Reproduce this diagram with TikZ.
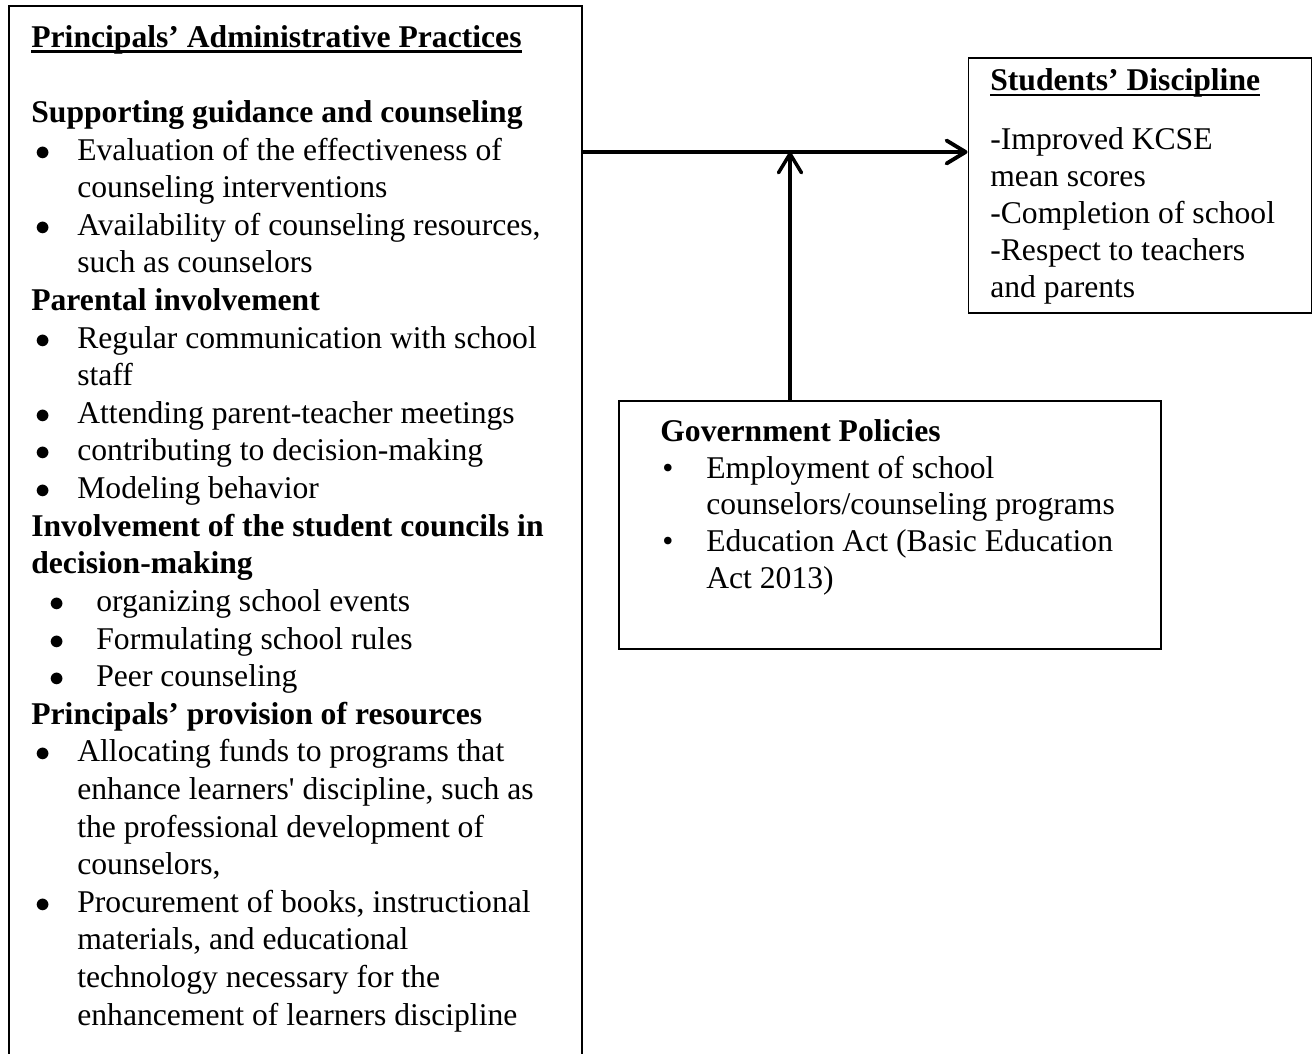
\documentclass[tikz,border=0pt]{standalone}
\usepackage{fontspec}
\setmainfont{Liberation Serif}
\usetikzlibrary{arrows.meta}
% underline drawn at a fixed depth, through the descenders
\newsavebox{\ulbox}
\newcommand{\ulhead}[1]{\sbox{\ulbox}{\textbf{#1}}\rlap{\rule[-3pt]{\wd\ulbox}{1.2pt}}\usebox{\ulbox}}
% bullet rows: first line and hanging continuation
\newcommand{\pbul}[1]{\makebox[0.92cm][l]{\hspace{0.08cm}$\bullet$}#1}
\newcommand{\pcont}[1]{\hspace*{0.92cm}#1}
\newcommand{\sbul}[1]{\makebox[1.3cm][l]{\hspace{0.36cm}$\bullet$}#1}
\newcommand{\gbul}[1]{\makebox[0.92cm][l]{\hspace{0.04cm}\textbullet}#1}
\newcommand{\gcont}[1]{\hspace*{0.92cm}#1}

\begin{document}
\begin{tikzpicture}[
    frame/.style={draw, line width=1.1pt, inner sep=0pt},
    blocktext/.style={anchor=north west, inner sep=0pt, align=left, font=\fontsize{18}{21.4}\selectfont},
    link/.style={line width=2.2pt, -{Straight Barb[length=3.8mm,width=4.6mm,round]}}]
    \useasboundingbox (0,0) rectangle (26.32,-21.06);

    % the three boxes
    \node[frame, anchor=north west, minimum width=11.46cm, minimum height=21.6cm] (pap) at (0.16,-0.1) {};
    \node[frame, anchor=north west, minimum width=6.86cm, minimum height=5.1cm] (sd) at (19.35,-1.14) {};
    \node[frame, anchor=north west, minimum width=10.84cm, minimum height=4.96cm] (gp) at (12.36,-8.0) {};

    \node[blocktext] (paptxt) at (0.62,-0.5) {%
        \ulhead{Principals’ Administrative Practices}\\[21.4pt]
        \textbf{Supporting guidance and counseling}\\
        \pbul{Evaluation of the effectiveness of}\\
        \pcont{counseling interventions}\\
        \pbul{Availability of counseling resources,}\\
        \pcont{such as counselors}\\
        \textbf{Parental involvement}\\
        \pbul{Regular communication with school}\\
        \pcont{staff}\\
        \pbul{Attending parent-teacher meetings}\\
        \pbul{contributing to decision-making}\\
        \pbul{Modeling behavior}\\
        \textbf{Involvement of the student councils in}\\
        \textbf{decision-making}\\
        \sbul{organizing school events}\\
        \sbul{Formulating school rules}\\
        \sbul{Peer counseling}\\
        \textbf{Principals’ provision of resources}\\
        \pbul{Allocating funds to programs that}\\
        \pcont{enhance learners\textquotesingle\ discipline, such as}\\
        \pcont{the professional development of}\\
        \pcont{counselors,}\\
        \pbul{Procurement of books, instructional}\\
        \pcont{materials, and educational}\\
        \pcont{technology necessary for the}\\
        \pcont{enhancement of learners discipline}};

    \node[blocktext, font=\fontsize{18}{21}\selectfont] (sdtxt) at (19.8,-1.37) {%
        \ulhead{Students’ Discipline}\\[0.44cm]
        -Improved KCSE\\
        mean scores\\
        -Completion of school\\
        -Respect to teachers\\
        and parents};

    \node[blocktext, font=\fontsize{18}{20.9}\selectfont] (gptxt) at (13.2,-8.38) {%
        \textbf{Government Policies}\\
        \gbul{Employment of school}\\
        \gcont{counselors/counseling programs}\\
        \gbul{Education Act (Basic Education}\\
        \gcont{Act 2013)}};

    % arrows into the outcome box
    \coordinate (jn) at (15.8,-3.04);
    \draw[link] (pap.east |- jn) -- (sd.west |- jn);
    \draw[link, line width=2pt] (gp.north -| jn) -- (jn);
\end{tikzpicture}
\end{document}
